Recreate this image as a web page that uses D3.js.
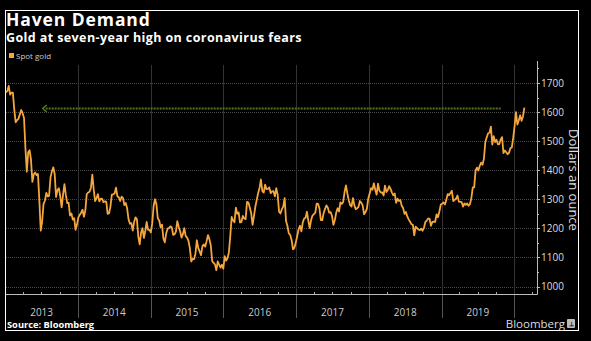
<!DOCTYPE html>
<html><head><meta charset="utf-8">
<script src="https://cdn.jsdelivr.net/npm/d3@7"></script>
<style>html,body{margin:0;padding:0;background:#000;}svg{display:block;}</style>
</head><body>
<script>
// Weekly closes (USD/oz), each array continues weekly from the first Friday below
const year2013Start = "2013-01-04";
const gold2013 = [1668,1672,1690,1660,1667,1667,1609,1565,1572,1577,1592,1607,1596,1580,1477,1395,1462,1469,1436,1360,1386,1392,1383,1387,1297,1192,1223,1284,1295,1322,1310,1312,1375,1396,1410,1387,1308,1332,1338,1310,1272,1315,1352,1315,1287,1288,1244,1251,1230,1235,1195,1213];
const gold2014 = [1238,1247,1254,1264,1240,1262,1318,1323,1326,1339,1385,1334,1294,1303,1318,1293,1301,1302,1290,1293,1292,1250,1252,1274,1316,1317,1320,1340,1310,1307,1294,1309,1305,1280,1287,1268,1231,1216,1218,1192,1222,1238,1231,1171,1145,1185,1201,1167,1190,1222,1195,1195];
const gold2015 = [1186,1217,1277,1300,1283,1234,1227,1204,1213,1165,1152,1182,1199,1201,1207,1204,1178,1179,1189,1225,1205,1190,1168,1180,1201,1173,1168,1157,1132,1086,1095,1094,1113,1159,1133,1121,1108,1138,1145,1137,1156,1177,1163,1142,1088,1081,1076,1056,1086,1075,1065,1075];
const gold2016 = [1061,1104,1089,1097,1117,1174,1239,1227,1221,1271,1250,1255,1220,1222,1243,1234,1232,1291,1289,1272,1252,1212,1243,1275,1298,1322,1339,1368,1328,1323,1350,1335,1336,1341,1321,1327,1328,1310,1338,1316,1257,1251,1266,1275,1304,1225,1208,1183,1177,1160,1128,1133,1151];
const gold2017 = [1173,1197,1209,1190,1220,1234,1236,1257,1226,1201,1229,1244,1249,1254,1285,1284,1268,1228,1228,1253,1267,1279,1271,1254,1256,1242,1212,1228,1254,1269,1258,1289,1284,1291,1325,1348,1320,1297,1280,1275,1304,1280,1266,1269,1274,1294,1288,1279,1248,1256,1267,1303];
const gold2018 = [1320,1338,1333,1355,1333,1316,1354,1330,1323,1324,1313,1347,1325,1332,1345,1336,1323,1314,1320,1288,1302,1294,1298,1278,1270,1250,1256,1241,1231,1223,1214,1212,1176,1206,1201,1196,1194,1199,1192,1203,1222,1227,1234,1233,1209,1222,1223,1222,1248,1238,1257,1281];
const gold2019 = [1285,1289,1282,1298,1318,1314,1322,1329,1294,1298,1302,1313,1292,1291,1290,1275,1286,1281,1286,1278,1284,1305,1341,1341,1399,1409,1399,1415,1426,1419,1440,1497,1513,1527,1529,1550,1488,1517,1497,1505,1489,1490,1505,1514,1459,1468,1462,1455,1460,1476,1478,1511];
const gold2020 = [1552,1600,1557,1571,1589,1570,1584,1615];

const seriesName = "Spot gold";
const yTicks = [1000,1100,1200,1300,1400,1500,1600,1700];
const yearLabels = ["2013","2014","2015","2016","2017","2018","2019"];
const arrowLevel = 1613;
const arrowDates = ["2019-10-25","2013-07-08"];

const W = 591, H = 341;
const svg = d3.select("body").append("svg").attr("width", W).attr("height", H);
svg.append("rect").attr("width", W).attr("height", H).attr("fill", "#000");
svg.append("rect").attr("x", 5.5).attr("y", 10.5).attr("width", 573).attr("height", 320)
  .attr("fill", "none").attr("stroke", "#fff").attr("stroke-width", 1);

const allWeeks = [].concat(gold2013, gold2014, gold2015, gold2016, gold2017, gold2018, gold2019, gold2020);
const t0 = new Date(year2013Start + "T00:00:00Z");
const data = allWeeks.map((v, i) => ({ date: new Date(t0.getTime() + i * 7 * 86400000), value: v }));

const plotL = 6, plotR = 537, plotT = 65, plotB = 294;
const x = d3.scaleUtc().domain([new Date("2013-01-01T00:00:00Z"), new Date("2020-01-01T00:00:00Z")]).range([5.3, 514.2]);
const y = d3.scaleLinear().domain([1000, 1700]).range([286.5, 83]);

// horizontal dotted grid
svg.append("g").selectAll("line").data(yTicks).join("line")
  .attr("x1", plotL).attr("x2", plotR)
  .attr("y1", d => Math.round(y(d)) + 0.5).attr("y2", d => Math.round(y(d)) + 0.5)
  .attr("stroke", "#4a4a4a").attr("stroke-dasharray", "1,1").attr("stroke-width", 1);

// year dividers
const yearStarts = d3.utcYear.range(new Date("2014-01-01T00:00:00Z"), new Date("2020-06-01T00:00:00Z"));
svg.append("g").selectAll("line").data(yearStarts).join("line")
  .attr("x1", d => Math.round(x(d)) + 0.5).attr("x2", d => Math.round(x(d)) + 0.5)
  .attr("y1", plotT).attr("y2", plotB)
  .attr("stroke", "#333").attr("stroke-width", 1);
svg.append("g").selectAll("line").data(yearStarts).join("line")
  .attr("x1", d => Math.round(x(d)) + 0.5).attr("x2", d => Math.round(x(d)) + 0.5)
  .attr("y1", plotB).attr("y2", 318)
  .attr("stroke", "#555").attr("stroke-width", 1);

// quarter ticks
const quarters = d3.utcMonth.every(3).range(new Date("2013-02-01T00:00:00Z"), new Date("2020-05-01T00:00:00Z"))
  .filter(d => d.getUTCMonth() !== 0 && x(d) < plotR);
svg.append("g").selectAll("line").data(quarters).join("line")
  .attr("x1", d => Math.round(x(d)) + 0.5).attr("x2", d => Math.round(x(d)) + 0.5)
  .attr("y1", plotB - 2).attr("y2", plotB)
  .attr("stroke", "#aaa");

// axis lines
svg.append("line").attr("x1", plotL).attr("x2", plotR + 0.5).attr("y1", plotB + 0.5).attr("y2", plotB + 0.5).attr("stroke", "#bbb");
svg.append("line").attr("x1", plotR + 0.5).attr("x2", plotR + 0.5).attr("y1", plotT - 4).attr("y2", plotB + 0.5).attr("stroke", "#bbb");

// y ticks (major + minor)
const minor = d3.range(1050, 1751, 100);
svg.append("g").selectAll("line").data(yTicks.concat(minor)).join("line")
  .attr("x1", plotR).attr("x2", d => d % 100 === 0 ? plotR + 3 : plotR + 2)
  .attr("y1", d => Math.round(y(d)) + 0.5).attr("y2", d => Math.round(y(d)) + 0.5)
  .attr("stroke", "#bbb");
svg.append("g").selectAll("text").data(yTicks).join("text")
  .attr("x", plotR + 4).attr("y", d => y(d) + 3.5)
  .attr("fill", "#ddd").attr("font-family", "Open Sans, sans-serif").attr("font-size", 10)
  .text(d => d);

svg.append("text").attr("transform", "translate(569,180) rotate(90)")
  .attr("text-anchor", "middle").attr("fill", "#ddd")
  .attr("font-family", "Open Sans, sans-serif").attr("font-size", 13).text("Dollars an ounce");

// year labels
svg.append("g").selectAll("text").data(yearLabels).join("text")
  .attr("x", d => (x(new Date(d + "-01-01T00:00:00Z")) + x(new Date((+d + 1) + "-01-01T00:00:00Z"))) / 2)
  .attr("y", 316).attr("text-anchor", "middle")
  .attr("fill", "#ccc").attr("font-family", "Open Sans, sans-serif").attr("font-size", 10)
  .text(d => d);

// green arrow
const ay = Math.round(y(arrowLevel)) + 0.5;
const ax1 = x(new Date(arrowDates[0] + "T00:00:00Z")), ax2 = x(new Date(arrowDates[1] + "T00:00:00Z"));
svg.append("line").attr("x1", ax1).attr("x2", ax2 + 3).attr("y1", ay).attr("y2", ay)
  .attr("stroke", "#4e7a1c").attr("stroke-width", 2).attr("stroke-dasharray", "2,1");
svg.append("path").attr("d", `M${ax2 + 4},${ay - 3.5} L${ax2},${ay} L${ax2 + 4},${ay + 3.5}`)
  .attr("fill", "none").attr("stroke", "#4e7a1c").attr("stroke-width", 1.6);

// gold line
const line = d3.line().x(d => x(d.date)).y(d => y(d.value)).curve(d3.curveLinear);
svg.append("path").datum(data).attr("d", line).attr("fill", "none")
  .attr("stroke", "#f5a63c").attr("stroke-width", 1.8).attr("stroke-linejoin", "round");

// titles
svg.append("text").attr("x", 6).attr("y", 25.5).attr("fill", "#fff")
  .attr("font-family", "Open Sans, sans-serif").attr("font-weight", "bold").attr("font-size", 17.5)
  .attr("letter-spacing", 0.9).text("Haven Demand");
svg.append("text").attr("x", 6).attr("y", 42).attr("fill", "#fff")
  .attr("font-family", "Open Sans, sans-serif").attr("font-weight", "bold").attr("font-size", 12.5)
  .attr("letter-spacing", 0.4).text("Gold at seven-year high on coronavirus fears");

// legend
svg.append("rect").attr("x", 9).attr("y", 53).attr("width", 5).attr("height", 5).attr("fill", "#f5a63c");
svg.append("text").attr("x", 16).attr("y", 59).attr("fill", "#ccc")
  .attr("font-family", "Open Sans, sans-serif").attr("font-size", 8).text(seriesName);

// footer
svg.append("text").attr("x", 7).attr("y", 328).attr("fill", "#fff")
  .attr("font-family", "Open Sans, sans-serif").attr("font-weight", "bold").attr("font-size", 9.3).text("Source: Bloomberg");
svg.append("text").attr("x", 565).attr("y", 328).attr("text-anchor", "end").attr("fill", "#ddd")
  .attr("font-family", "Open Sans, sans-serif").attr("font-size", 11.5).text("Bloomberg");
svg.append("rect").attr("x", 567).attr("y", 319).attr("width", 8).attr("height", 9).attr("rx", 1).attr("fill", "#bbb");
svg.append("text").attr("x", 571).attr("y", 326).attr("text-anchor", "middle").attr("fill", "#000")
  .attr("font-family", "Open Sans, sans-serif").attr("font-size", 6).attr("font-weight", "bold").text("⊥");
</script>
</body></html>
